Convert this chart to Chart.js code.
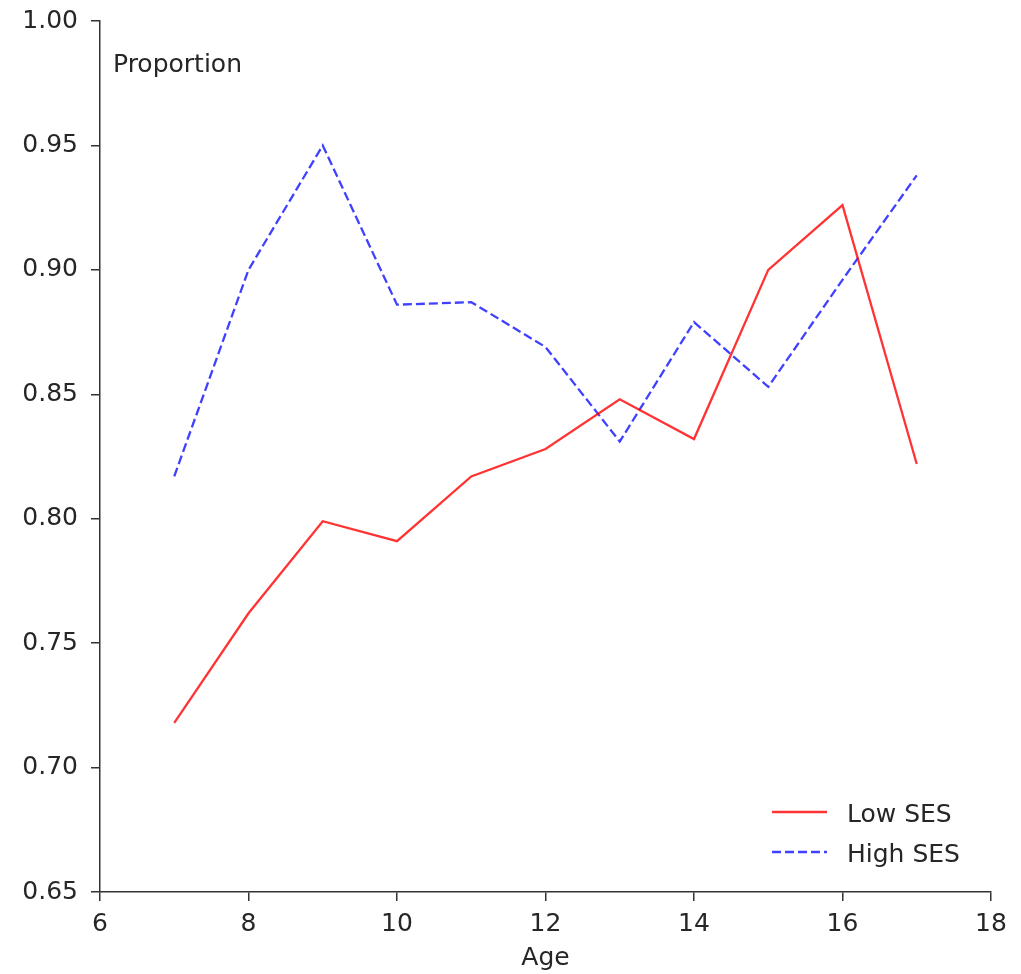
<!DOCTYPE html>
<html>
<head>
<meta charset="utf-8">
<script src="https://cdn.jsdelivr.net/npm/chart.js@4/dist/chart.umd.min.js"></script>
<style>
  body { margin: 0; background: #fff; }
  canvas { display: block; }
</style>
</head>
<body>
<canvas id="sesChart" width="1021" height="974"></canvas>
<script>
// data
const ages = [7, 8, 9, 10, 11, 12, 13, 14, 15, 16, 17];
const lowSes = [0.718, 0.762, 0.799, 0.791, 0.817, 0.828, 0.848, 0.832, 0.900, 0.926, 0.822];
const highSes = [0.817, 0.900, 0.950, 0.886, 0.887, 0.869, 0.831, 0.879, 0.853, 0.896, 0.938];
const seriesNames = ['Low SES', 'High SES'];
const xTicks = [6, 8, 10, 12, 14, 16, 18];
const yTicks = [0.65, 0.70, 0.75, 0.80, 0.85, 0.90, 0.95, 1.00];

const textColor = '#262626';
const axisColor = '#333333';
const font = { family: 'DejaVu Sans', size: 25 };

/*
* draws the "Proportion" label inside the plot and the legend box in the
* lower right, using the styles of the datasets.
*/
const extrasPlugin = {
   id: 'extras',
   afterDraw(chart) {
      const ctx = chart.ctx;
      const area = chart.chartArea;
      ctx.save();
      ctx.font = '25px "DejaVu Sans"';
      ctx.fillStyle = textColor;
      ctx.textAlign = 'left';
      ctx.textBaseline = 'alphabetic';
      ctx.fillText('Proportion', area.left + 13, area.top + 51);

      chart.data.datasets.forEach((ds, i) => {
         const y = 812 + i * 40;
         ctx.beginPath();
         ctx.strokeStyle = ds.borderColor;
         ctx.lineWidth = ds.borderWidth;
         ctx.setLineDash(ds.borderDash || []);
         ctx.moveTo(772, y);
         ctx.lineTo(827, y);
         ctx.stroke();
         ctx.setLineDash([]);
         ctx.fillStyle = textColor;
         ctx.fillText(ds.label, 847, y + 10);
      });
      ctx.restore();
   }
};

const canvas = document.querySelector('#sesChart');

new Chart(canvas, {
   type: 'line',
   data: {
      datasets: [{
         label: seriesNames[0],
         data: ages.map((a, i) => ({ x: a, y: lowSes[i] })),
         borderColor: 'rgba(255,0,0,0.8)',
         borderWidth: 2.3,
         pointRadius: 0,
         tension: 0,
         fill: false
      }, {
         label: seriesNames[1],
         data: ages.map((a, i) => ({ x: a, y: highSes[i] })),
         borderColor: 'rgba(0,0,255,0.75)',
         borderWidth: 2.3,
         borderDash: [9, 4],
         pointRadius: 0,
         tension: 0,
         fill: false
      }]
   },
   options: {
      responsive: false,
      animation: false,
      layout: { padding: { top: 21, right: 30, left: 0, bottom: 0 } },
      scales: {
         x: {
            type: 'linear',
            min: xTicks[0],
            max: xTicks[xTicks.length - 1],
            afterBuildTicks: scale => { scale.ticks = xTicks.map(v => ({ value: v })); },
            afterFit: scale => {
               scale.height = 82;
               scale.paddingLeft = 0;
               scale.paddingRight = 0;
            },
            grid: { drawOnChartArea: false, drawTicks: true, tickLength: 9, color: axisColor, lineWidth: 1.5 },
            border: { display: true, color: axisColor, width: 1.5 },
            ticks: { color: textColor, font: font, padding: 8, maxRotation: 0,
               callback: v => String(v) },
            title: { display: true, text: 'Age', color: textColor, font: font,
               padding: { top: 0, bottom: 1 } }
         },
         y: {
            min: yTicks[0],
            max: yTicks[yTicks.length - 1],
            afterBuildTicks: scale => { scale.ticks = yTicks.map(v => ({ value: v })); },
            afterFit: scale => {
               scale.width = 100;
               scale.paddingTop = 0;
               scale.paddingBottom = 0;
            },
            grid: { drawOnChartArea: false, drawTicks: true, tickLength: 9, color: axisColor, lineWidth: 1.5 },
            border: { display: true, color: axisColor, width: 1.5 },
            ticks: { color: textColor, font: font, padding: 13,
               callback: v => Number(v).toFixed(2) }
         }
      },
      plugins: {
         legend: { display: false },
         tooltip: { enabled: false }
      }
   },
   plugins: [extrasPlugin]
});
</script>
</body>
</html>
